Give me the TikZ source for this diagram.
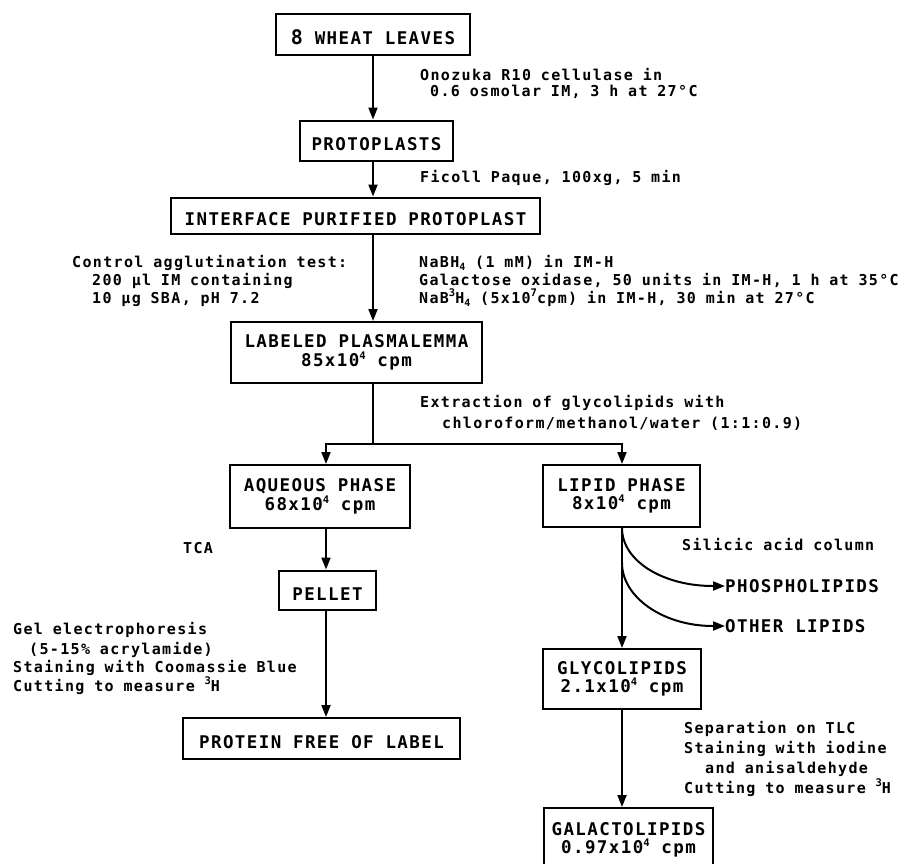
\documentclass[tikz,border=0pt]{standalone}
\usepackage{fontspec}
\usetikzlibrary{arrows.meta}
\newfontfamily\annfamily{DejaVu Sans Mono Bold}[LetterSpace=9]
\newfontfamily\boxfamily{DejaVu Sans Mono Bold}[LetterSpace=8]
\newcommand\boxfnt{\boxfamily\fontsize{17.5}{18.5}\selectfont\spaceskip=11.8pt\relax}
\newcommand\annfnt{\annfamily\fontsize{15}{17}\selectfont\spaceskip=9.8pt\relax}
\newcommand\sps[1]{\raisebox{0.42em}{\fontsize{10.5}{10.5}\selectfont #1}}
\newcommand\sbs[1]{\raisebox{-0.2em}{\fontsize{10}{10}\selectfont #1}}
\begin{document}
\begin{tikzpicture}[x=1pt,y=-1pt,
  box/.style={draw, line width=2pt, inner sep=0pt, align=center, font=\boxfnt},
  onebox/.style={box, text height=20pt, text depth=0pt},
  capitem/.style={inner sep=0pt, anchor=west, font=\boxfnt},
  ann/.style={inner sep=0pt, anchor=base west, font=\annfnt},
  arr/.style={line width=2pt, -{Triangle[length=12pt,width=9pt]}},
  ln/.style={line width=2pt}]
\useasboundingbox (0,0) rectangle (900,863);
\fill[white] (0,0) rectangle (900,863);
\clip (0,0) rectangle (900,863);

% boxes
\node[onebox, minimum width=194pt, minimum height=41pt] (wheat) at (373,34.5) {{\fontsize{20}{20}\selectfont 8} WHEAT LEAVES};
\node[onebox, minimum width=153pt, minimum height=40pt] (proto) at (376.5,140.5) {PROTOPLASTS};
\node[onebox, minimum width=369pt, minimum height=36pt] (iface) at (355.5,215.5) {INTERFACE PURIFIED PROTOPLAST};
\node[box, minimum width=251pt, minimum height=61pt] (label) at (356.5,352.5) {LABELED PLASMALEMMA\\85x10\sps{4} cpm};
\node[box, minimum width=180pt, minimum height=63pt] (aq) at (320,496.5) {AQUEOUS PHASE\\68x10\sps{4} cpm};
\node[box, minimum width=157pt, minimum height=62pt] (lip) at (621.5,496) {LIPID PHASE\\8x10\sps{4} cpm};
\node[onebox, minimum width=97pt, minimum height=39pt] (pel) at (327.5,590) {PELLET};
\node[onebox, minimum width=277pt, minimum height=41pt] (prot) at (321.5,738.5) {PROTEIN FREE OF LABEL};
\node[box, minimum width=158pt, minimum height=60pt] (gly) at (622,679) {GLYCOLIPIDS\\2.1x10\sps{4} cpm};
\node[box, minimum width=169pt, minimum height=64pt] (gal) at (628.5,840) {GALACTOLIPIDS\\0.97x10\sps{4} cpm};
\node[capitem] (phos) at (725,586) {PHOSPHOLIPIDS};
\node[capitem] (oth) at (725,626) {OTHER LIPIDS};

% annotations
\node[ann] (t1a) at (420,80) {Onozuka R10 cellulase in};
\node[ann] (t1b) at (430,96) {0.6 osmolar IM, 3 h at 27°C};
\node[ann] (t2) at (420,182) {Ficoll Paque, 100xg, 5 min};
\node[ann] (c1) at (72,267) {Control agglutination test:};
\node[ann] (c2) at (92,285) {200 µl IM containing};
\node[ann] (c3) at (92,303) {10 µg SBA, pH 7.2};
\node[ann] (n1) at (419,267) {NaBH\sbs{4} (1 mM) in IM-H};
\node[ann] (n2) at (419,285) {Galactose oxidase, 50 units in IM-H, 1 h at 35°C};
\node[ann] (n3) at (419,303) {NaB\sps{3}H\sbs{4} (5x10\sps{7}cpm) in IM-H, 30 min at 27°C};
\node[ann] (e1) at (420,407) {Extraction of glycolipids with};
\node[ann] (e2) at (442,428) {chloroform/methanol/water (1:1:0.9)};
\node[ann] (tca) at (183,553) {TCA};
\node[ann] (sil) at (682,550) {Silicic acid column};
\node[ann] (g1) at (13,634.5) {Gel electrophoresis};
\node[ann] (g2) at (29,654) {(5-15\% acrylamide)};
\node[ann] (g3) at (13,672.5) {Staining with Coomassie Blue};
\node[ann] (g4) at (13,691) {Cutting to measure \sps{3}H};
\node[ann] (s1) at (684,733) {Separation on TLC};
\node[ann] (s2) at (684,753) {Staining with iodine};
\node[ann] (s3) at (705,773) {and anisaldehyde};
\node[ann] (s4) at (684,793) {Cutting to measure \sps{3}H};

% connectors
\coordinate (tx) at (373,0);
\coordinate (lx) at (326,0);
\coordinate (rx) at (622,0);
\coordinate (split) at (373,444);
\coordinate (fork) at (622,563);
\draw[arr] (wheat.south -| tx) -- (proto.north -| tx);
\draw[arr] (proto.south -| tx) -- (iface.north -| tx);
\draw[arr] (iface.south -| tx) -- (label.north -| tx);
\draw[ln] (label.south -| tx) -- (split);
\draw[arr] (split) -| (aq.north -| lx);
\draw[arr] (split) -| (lip.north -| rx);
\draw[arr] (aq.south -| lx) -- (pel.north -| lx);
\draw[arr] (pel.south -| lx) -- (prot.north -| lx);
\draw[arr] (lip.south -| rx) -- (gly.north -| rx);
\draw[arr] (gly.south -| rx) -- (gal.north -| rx);
\draw[arr] (lip.south -| rx) .. controls (622,561) and (663,586) .. (713,586) -- (phos.west);
\draw[arr] (fork) .. controls (622,597) and (663,626) .. (713,626) -- (oth.west);
\end{tikzpicture}
\end{document}
